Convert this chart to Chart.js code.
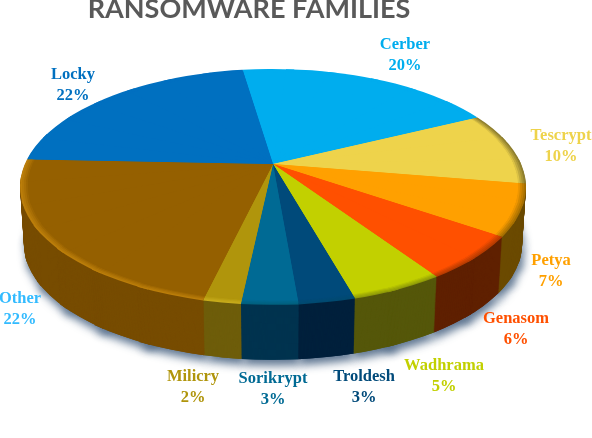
<!DOCTYPE html>
<html><head><meta charset="utf-8">
<style>html,body{margin:0;padding:0;background:#fff}canvas{display:block}</style>
<script src="https://cdn.jsdelivr.net/npm/chart.js@4"></script>
</head><body><canvas id="c" width="592" height="438"></canvas>
<script>
const categories = ['Cerber','Tescrypt','Petya','Genasom','Wadhrama','Troldesh','Sorikrypt','Milicry','Other','Locky'];
const shares = [20,10,7,6,5,3,3,2,22,22];
const faceColors = ['#00ADEE','#EED34B','#FFA000','#FF5000','#C2D000','#004A7A','#006A94','#B0950C','#956000','#0070C0'];
const wallColors = ['#006a90','#7d6a20','#6b4a00','#5f2000','#55570a','#00203c','#00334f','#6e5d0a','#774c00','#00406e'];
const bevelColors = ['#00ADEE','#8f7f2e','#a87000','#b83c00','#8f9a08','#004a70','#00607e','#c8ac1c','#bc7e0a','#0070C0'];
const labelColors = ['#00ADEE','#EED34B','#FFA000','#FF5000','#C2D000','#004A7A','#006A94','#B0950C','#33BBFF','#0070C0'];
const labelCenters = [[405,56],[561,147],[551,272],[516,330],[444,377],[364,388],[273,390],[193,388],[20,310],[73,86]];

const geo = {cx:273, cy:187, rx:253, ry:118, v:0.195, apexY:164, depth:57, taper:0.015, step:12*Math.PI/180};
function rimPoint(t){
  const ux=Math.cos(t), uy=Math.sin(t), q=1-geo.v*uy;
  return [geo.cx+geo.rx*ux*Math.sqrt(1-geo.v*geo.v)/q, geo.cy+geo.ry*(uy-geo.v)/q];
}
function mix(c1,c2,t){
  const p=c=>[1,3,5].map(i=>parseInt(c.substr(i,2),16));
  const a=p(c1),b=p(c2);
  return 'rgb('+a.map((v,i)=>Math.round(v+(b[i]-v)*t)).join(',')+')';
}
function paintArc(ctx,arc,color,dy,scale){
  const A=[geo.cx,geo.apexY+dy];
  const n=Math.max(1,Math.ceil((arc.endAngle-arc.startAngle)/geo.step));
  const da=(arc.endAngle-arc.startAngle)/n;
  const opts={backgroundColor:color,borderColor:color,borderWidth:0,borderAlign:'center',offset:0,spacing:0,circular:true,borderRadius:0,borderJoinStyle:'round',borderDash:[],borderDashOffset:0};
  for(let i=0;i<n;i++){
    const a0=arc.startAngle+i*da,a1=a0+da;
    const p0=rimPoint(a0),p1=rimPoint(a1);
    const R=arc.outerRadius;
    const x0=R*Math.cos(a0),y0=R*Math.sin(a0),x1=R*Math.cos(a1),y1=R*Math.sin(a1);
    const sx0=(p0[0]-geo.cx)*scale,sy0=(p0[1]-geo.apexY)*scale,sx1=(p1[0]-geo.cx)*scale,sy1=(p1[1]-geo.apexY)*scale;
    const det=x0*y1-x1*y0;
    const a=(sx0*y1-sx1*y0)/det,c=(sx1*x0-sx0*x1)/det,b=(sy0*y1-sy1*y0)/det,d=(sy1*x0-sy0*x1)/det;
    ctx.save();
    ctx.transform(a,b,c,d,A[0]-a*arc.x-c*arc.y,A[1]-b*arc.x-d*arc.y);
    const over=i<n-1?0.04:0;
    const f=Object.create(arc);
    f.startAngle=a0;f.endAngle=a1+over;f.circumference=da+over;f.options=opts;
    f.draw(ctx);
    ctx.restore();
  }
}
const pie3d={
  id:'pie3d',
  beforeDatasetDraw(chart,args){
    const ctx=chart.ctx,arcs=args.meta.data;
    const wallScale=dy=>1-geo.taper*dy/geo.depth;
    ctx.save();
    ctx.shadowColor='rgba(80,105,135,0.9)';ctx.shadowBlur=8;ctx.shadowOffsetX=2;ctx.shadowOffsetY=6;
    arcs.forEach((arc,i)=>paintArc(ctx,arc,wallColors[i],geo.depth,wallScale(geo.depth)));
    ctx.restore();
    for(let dy=geo.depth;dy>=1;dy--) arcs.forEach((arc,i)=>paintArc(ctx,arc,wallColors[i],dy,wallScale(dy)));
    const steps=[[1,0],[0.992,0.25],[0.984,0.5],[0.976,0.8]];
    steps.forEach(([s,t])=>arcs.forEach((arc,i)=>paintArc(ctx,arc,mix(bevelColors[i],faceColors[i],t),0,s)));
    for(let k=0;k<2;k++) arcs.forEach((arc,i)=>paintArc(ctx,arc,faceColors[i],0,0.968));
    return false;
  },
  afterDraw(chart){
    const ctx=chart.ctx;
    ctx.save();
    ctx.textAlign='center';ctx.textBaseline='middle';ctx.font='600 16.5px "Liberation Serif"';
    categories.forEach((name,i)=>{
      ctx.fillStyle=labelColors[i];
      const [x,y]=labelCenters[i];
      ctx.fillText(name,x,y-11);
      ctx.fillText(shares[i]+'%',x,y+10);
    });
    ctx.restore();
  }
};
new Chart(document.getElementById('c'),{
  type:'pie',
  data:{labels:categories,datasets:[{data:shares,backgroundColor:faceColors,borderWidth:0}]},
  options:{
    responsive:false,animation:false,rotation:-8.4,
    layout:{padding:{right:94}},
    plugins:{legend:{display:false},tooltip:{enabled:false},
      title:{display:true,text:'RANSOMWARE FAMILIES',color:'#595959',
        font:{family:'Lato',size:27,weight:'bold'},padding:{top:-7,bottom:0}}}
  },
  plugins:[pie3d]
});
</script></body></html>
